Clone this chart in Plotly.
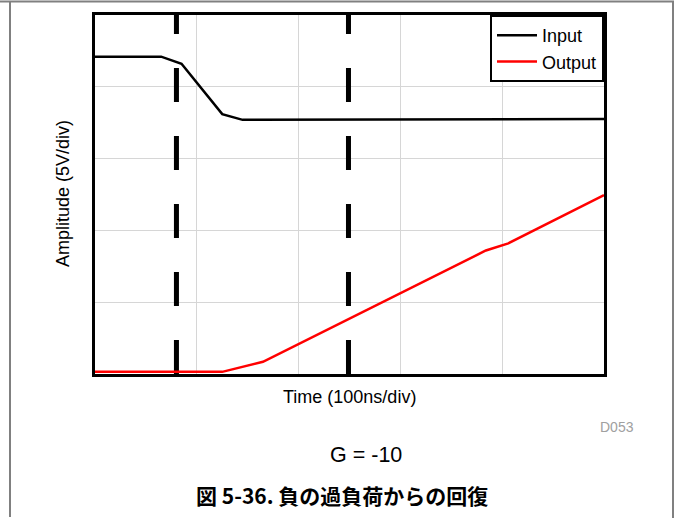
import plotly.graph_objects as go

# time in divisions (100ns/div), amplitude in divisions (5V/div)
input_t = [0, 0.65, 0.85, 1.25, 1.45, 2.7, 5.0]
input_v = [4.42, 4.42, 4.32, 3.62, 3.54, 3.54, 3.55]

output_t = [0, 1.25, 1.65, 3.0, 3.84, 4.06, 5.0]
output_v = [0.03, 0.03, 0.17, 1.13, 1.72, 1.82, 2.49]

# vertical dashed marker lines
marker_t = [0.8, 2.49]

FONT = "Liberation Sans, Arial, sans-serif"

fig = go.Figure()

for t in marker_t:
    fig.add_trace(go.Scatter(x=[t, t], y=[0, 5], mode="lines", showlegend=False,
                             hoverinfo="skip",
                             line=dict(color="black", width=5, dash="34px,34px")))

fig.add_trace(go.Scatter(x=input_t, y=input_v, mode="lines", name="Input",
                         line=dict(color="black", width=2.5)))
fig.add_trace(go.Scatter(x=output_t, y=output_v, mode="lines", name="Output",
                         line=dict(color="#ff0000", width=2.5)))

axis_style = dict(range=[0, 5], dtick=1, showticklabels=False, ticks="",
                  showgrid=True, gridcolor="#d6d6d6", gridwidth=1,
                  zeroline=False, showline=True, linecolor="black",
                  linewidth=3, mirror=True)
fig.update_xaxes(**axis_style)
fig.update_yaxes(**axis_style)

# outer gray frame (paper coords relative to plot area)
def px(x):
    return (x - 95) / 509.0

def py(y):
    return (374 - y) / 359.0

frame = dict(type="line", xref="paper", yref="paper",
             line=dict(color="#808080", width=2))
fig.add_shape(x0=px(0), x1=px(674), y0=py(1.5), y1=py(1.5), **frame)
fig.add_shape(x0=px(10), x1=px(10), y0=py(1.5), y1=py(517), **frame)
fig.add_shape(x0=px(673), x1=px(673), y0=py(1.5), y1=py(518), **frame)

def label(text, x, y, size, color="black", family=FONT, angle=0):
    fig.add_annotation(text=text, textangle=angle, xref="paper", yref="paper",
                       x=px(x), y=py(y), xanchor="center", yanchor="middle",
                       showarrow=False,
                       font=dict(family=family, size=size, color=color))

label("Amplitude (5V/div)", 63, 194, 18, angle=-90)
label("Time (100ns/div)", 349, 397, 18)
label("D053", 617, 427, 14, color="#a0a0a0")
label("G = -10", 366, 455, 21.5)
label("<b>図 5-36. 負の過負荷からの回復</b>", 342, 495, 21,
      family="Noto Sans CJK JP")

fig.update_layout(
    width=678, height=518,
    margin=dict(l=95, r=74, t=15, b=144),
    paper_bgcolor="white", plot_bgcolor="white",
    showlegend=True,
    legend=dict(x=1, y=1, xanchor="right", yanchor="top",
                bgcolor="white", bordercolor="black", borderwidth=2,
                font=dict(family=FONT, size=18, color="black"),
                tracegroupgap=0, itemwidth=40),
)

fig.write_html("out.html", config={"displayModeBar": False},
               post_script="document.body.style.margin='0';")
